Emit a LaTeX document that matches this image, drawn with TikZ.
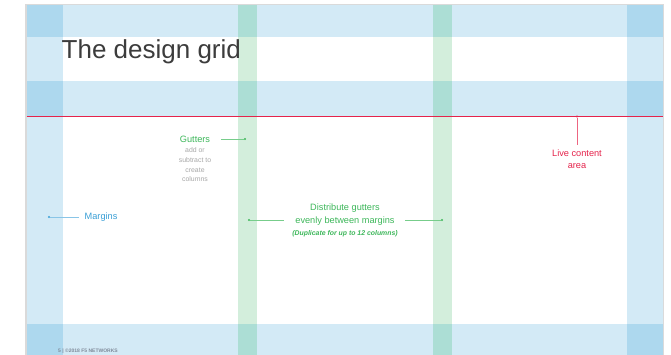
\documentclass[tikz,border=0pt]{standalone}
\usepackage{fontspec}
\setmainfont{Liberation Sans}
\definecolor{lb}{HTML}{D3EAF6}
\definecolor{db}{HTML}{ADD8EE}
\definecolor{lg}{HTML}{D3EEDC}
\definecolor{tg}{HTML}{ACDED5}
\definecolor{bordergray}{HTML}{DADADA}
\definecolor{livered}{HTML}{E5234B}
\definecolor{gutgreen}{HTML}{3DB75A}
\definecolor{margblue}{HTML}{3A9FD6}
\definecolor{titlegray}{HTML}{3C3C3C}
\definecolor{subgray}{HTML}{A8A8A8}
\definecolor{footgray}{HTML}{7F8A99}
\tikzset{
  lbl/.style={inner sep=0pt, font=\fontsize{9.2}{11}\selectfont},
  sublbl/.style={inner sep=0pt, anchor=base, text=subgray, font=\fontsize{6.9}{9}\selectfont},
  conn/.style={line width=0.6pt},
  dotmark/.style={circle, fill, inner sep=0pt, minimum size=2.2pt},
}
\begin{document}
\begin{tikzpicture}[x=1pt,y=-1pt]
\useasboundingbox (0,0) rectangle (671,355);
\fill[white] (0,0) rectangle (671,355);
% slide with border
\fill[bordergray] (25,4) rectangle (664,355);
\fill[white] (26.5,5.5) rectangle (662.5,355);
% horizontal bands
\fill[lb] (26.5,5.5) rectangle (662.5,37.5);
\fill[lb] (26.5,81) rectangle (662.5,116.5);
\fill[lb] (26.5,324) rectangle (662.5,355);
% margin columns
\fill[lb] (26.5,5.5) rectangle (63,355);
\fill[lb] (627,5.5) rectangle (662.5,355);
\foreach \ya/\yb in {5.5/37.5, 81/116.5, 324/355}{
  \fill[db] (26.5,\ya) rectangle (63,\yb);
  \fill[db] (627,\ya) rectangle (662.5,\yb);
}
% gutters
\fill[lg] (238,5.5) rectangle (257,355);
\fill[lg] (433,5.5) rectangle (452,355);
\foreach \ya/\yb in {5.5/37.5, 81/116.5, 324/355}{
  \fill[tg] (238,\ya) rectangle (257,\yb);
  \fill[tg] (433,\ya) rectangle (452,\yb);
}
% live content line
\coordinate (redL) at (26.5,116.5);
\coordinate (redR) at (662.5,116.5);
\draw[livered, line width=1.2pt] (redL) -- (redR);

% title
\node[anchor=base west, inner sep=0pt, text=titlegray, font=\fontsize{26}{30}\selectfont] (title) at (61.5,59) {The design grid};

% Gutters
\node[lbl, anchor=base, text=gutgreen] (gut) at (195,142.3) {Gutters};
\node[sublbl] (sub1) at (195,152.5) {add or};
\node[sublbl] (sub2) at (195,162.3) {subtract to};
\node[sublbl] (sub3) at (195,172.1) {create};
\node[sublbl] (sub4) at (195,181.9) {columns};
\node[dotmark, text=gutgreen, fill=gutgreen] (gutdot) at (245,139) {};
\coordinate (gutstart) at (221,139);
\draw[conn, gutgreen!70] (gutstart) -- (gutdot);

% Margins
\node[dotmark, fill=margblue] (mdot) at (49,217) {};
\node[lbl, anchor=west, text=margblue] (marg) at (84.5,217) {Margins};
\coordinate (mend) at (79,217);
\draw[conn, margblue!60] (mdot) -- (mend);

% Distribute gutters
\node[lbl, anchor=base, text=gutgreen] (dist1) at (345,210.3) {Distribute gutters};
\node[lbl, anchor=base, text=gutgreen] (dist2) at (345,223.3) {evenly between margins};
\node[inner sep=0pt, anchor=base, text=gutgreen, font=\fontsize{6.9}{9}\selectfont\bfseries\itshape] (dist3) at (345,235.5) {(Duplicate for up to 12 columns)};
\node[dotmark, fill=gutgreen] (ddotL) at (249,220) {};
\node[dotmark, fill=gutgreen] (ddotR) at (442,220) {};
\coordinate (dlineL) at (284,220);
\coordinate (dlineR) at (405,220);
\draw[conn, gutgreen!70] (ddotL) -- (dlineL);
\draw[conn, gutgreen!70] (dlineR) -- (ddotR);

% Live content area
\node[dotmark, fill=livered, minimum size=2.4pt] (ldot) at (577,116.5) {};
\coordinate (lend) at (577,145);
\draw[conn, livered!70] (ldot) -- (lend);
\node[lbl, anchor=base, text=livered] (live1) at (577,156.3) {Live content};
\node[lbl, anchor=base, text=livered] (live2) at (577,168.3) {area};

% footer
\node[anchor=base west, inner sep=0pt, text=footgray, font=\fontsize{5}{6}\selectfont\bfseries] (foot) at (58,352) {5 | ©2018 F5 NETWORKS};
\end{tikzpicture}
\end{document}
